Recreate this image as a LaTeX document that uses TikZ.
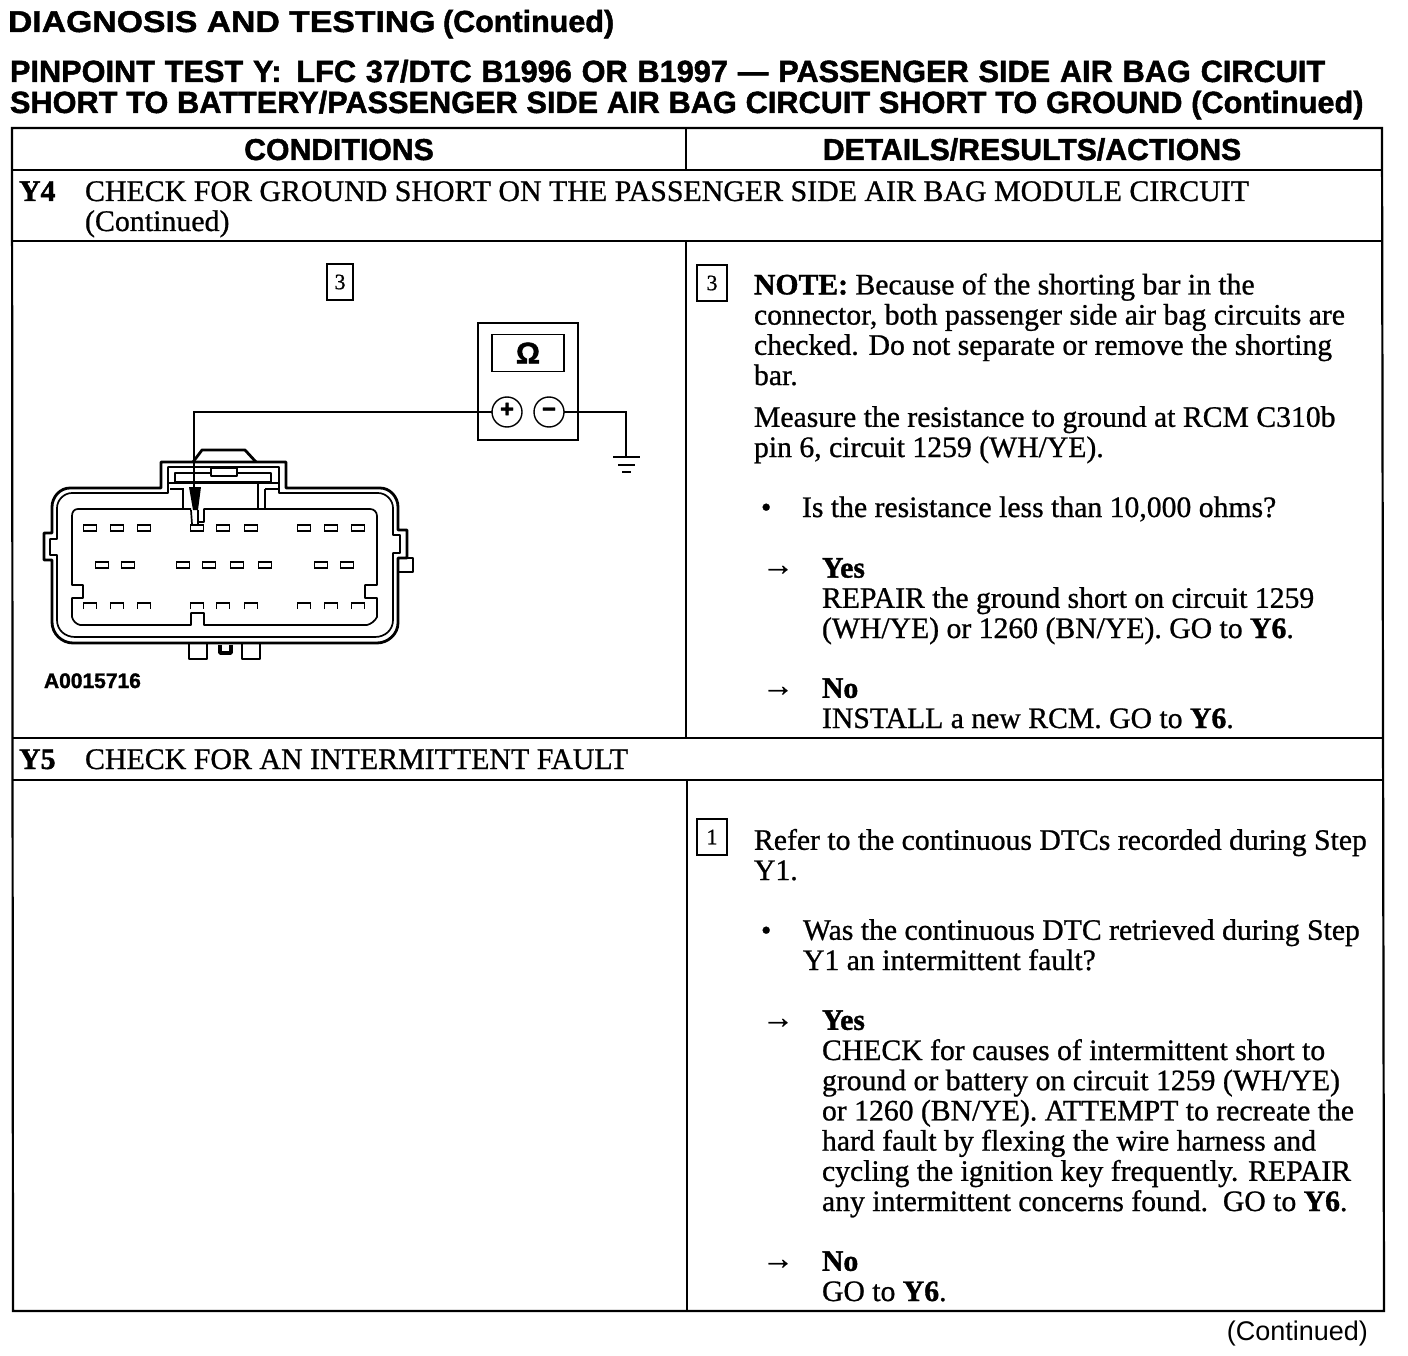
\documentclass[tikz,border=0pt]{standalone}
\usepackage{fontspec}
\setmainfont{Liberation Serif}[FakeBold=0.8, BoldFeatures={FakeBold=1.2}]
\newfontfamily\headfont{Liberation Sans}[BoldFont={Liberation Sans Bold}, BoldFeatures={FakeBold=1.5}]
\newfontfamily\titlefont{Liberation Sans}[BoldFont={Liberation Sans Bold}, BoldFeatures={FakeBold=1.5}, FakeStretch=1.125]
\usetikzlibrary{positioning}

\begin{document}
\begin{tikzpicture}[
    x=1pt, y=-1pt,
    every node/.style={inner sep=0pt, outer sep=0pt},
    % The table rules:
    rule/.style={line width=2.2pt},
    % The text of the table, placed by its last line:
    para/.style={
      anchor=base west,
      align=left,
      yshift=1pt,
      font=\fontsize{29.7}{30.2}\selectfont,
    },
    rowtitle/.style={
      para,
      font=\fontsize{29.9}{30}\selectfont,
    },
    arrowmark/.style={
      anchor=base west,
      font=\fontsize{32}{32}\selectfont,
    },
    % The headings:
    head/.style={
      anchor=base west,
      yshift=1pt,
      font=\fontsize{30.7}{30.7}\selectfont\headfont\bfseries,
    },
    colhead/.style={
      anchor=base,
      yshift=1pt,
      font=\fontsize{30.2}{30}\selectfont\headfont\bfseries,
    },
    % The numbered squares:
    stepbox/.style={
      draw, line width=2pt,
      minimum width=30pt, minimum height=36pt,
      font=\fontsize{22}{22}\selectfont,
    },
    % The connector:
    shell/.style={line width=2.8pt, line join=round},
    thinline/.style={line width=1.7pt, line join=round},
    pinbox/.style={draw, line width=1.8pt, minimum width=13pt, minimum height=6.5pt},
    socket/.style={line width=1.8pt},
    % The meter:
    jack/.style={circle, draw, line width=1.4pt, minimum size=30pt,
      text height=1em, text depth=0pt,
      font=\fontsize{24}{24}\selectfont\headfont\bfseries},
    wire/.style={line width=2.6pt},
  ]

  % table
  \draw[rule] (12,128) -- (1382,128) -- (1384,1311) -- (13,1311) -- cycle;
  \draw[rule] (12,170) -- (1382,170);
  \draw[rule] (12,241) -- (1382,241);
  \draw[rule] (12,738) -- (1383,738);
  \draw[rule] (13,780) -- (1383,780);
  \draw[rule] (686,128) -- (686,170);
  \draw[rule] (686,241) -- (686,738);
  \draw[rule] (687,780) -- (687,1311);

  % headings
  \node[head, font=\fontsize{30}{30}\selectfont\bfseries] (title) at (8,33) {{\titlefont DIAGNOSIS AND TESTING} {\fontsize{30.5}{30}\selectfont\headfont(Continued)}};
  \node[head] (pinpoint) at (10,83) {\spaceskip=9.8pt PINPOINT TEST Y:\, LFC 37/DTC B1996 OR B1997 — PASSENGER SIDE AIR BAG CIRCUIT};
  \node[head] (pinpointb) at (10,114) {\spaceskip=8.8pt SHORT TO BATTERY/PASSENGER SIDE AIR BAG CIRCUIT SHORT TO GROUND (Continued)};
  \node[colhead] (conditions) at (339,161) {CONDITIONS};
  \node[colhead] (details) at (1032,161) {DETAILS/RESULTS/ACTIONS};

  % step rows
  \node[rowtitle] (ynum) at (19,202) {\textbf{Y4}};
  \node[rowtitle] (ytitle) at (85,232) {CHECK FOR GROUND SHORT ON THE PASSENGER SIDE AIR BAG MODULE CIRCUIT\\(Continued)};
  \node[rowtitle] (znum) at (19,770) {\textbf{Y5}};
  \node[rowtitle] (ztitle) at (85,770) {CHECK FOR AN INTERMITTENT FAULT};

  % right column, Y4
  \node[stepbox] (stepc) at (712,283) {3};
  \node[para] (note) at (754,386) {\textbf{NOTE:} Because of the shorting bar in the\\connector, both passenger side air bag circuits are\\checked. Do not separate or remove the shorting\\bar.};
  \node[para] (measure) at (754,458) {Measure the resistance to ground at RCM C310b\\pin 6, circuit 1259 (WH/YE).};
  \node[para] (bulleta) at (761,518) {•};
  \node[para] (ask) at (802,518) {Is the resistance less than 10,000 ohms?};
  \node[arrowmark] (arrowa) at (762,575) {→};
  \node[para] (yesa) at (822,639) {\textbf{Yes}\\REPAIR the ground short on circuit 1259\\(WH/YE) or 1260 (BN/YE). GO to \textbf{Y6}.};
  \node[arrowmark] (arrowb) at (762,696) {→};
  \node[para] (noa) at (822,729) {\textbf{No}\\INSTALL a new RCM. GO to \textbf{Y6}.};

  % right column, Y5
  \node[stepbox] (stepa) at (712,837) {1};
  \node[para] (refer) at (754,881) {Refer to the continuous DTCs recorded during Step\\Y1.};
  \node[para] (bulletb) at (761,941) {•};
  \node[para] (was) at (803,971) {Was the continuous DTC retrieved during Step\\Y1 an intermittent fault?};
  \node[arrowmark] (arrowc) at (762,1028) {→};
  \node[para] (yesb) at (822,1212) {\textbf{Yes}\\CHECK for causes of intermittent short to\\ground or battery on circuit 1259 (WH/YE)\\or 1260 (BN/YE). ATTEMPT to recreate the\\hard fault by flexing the wire harness and\\cycling the ignition key frequently. REPAIR\\any intermittent concerns found.\, GO to \textbf{Y6}.};
  \node[arrowmark] (arrowd) at (762,1269) {→};
  \node[para] (nob) at (822,1302) {\textbf{No}\\GO to \textbf{Y6}.};
  \node[anchor=base east, font=\fontsize{27}{27}\selectfont\headfont] (more) at (1368,1340) {(Continued)};

  % left column, figure
  \node[stepbox, minimum width=26pt] (stepfig) at (340,282) {3};
  \node[anchor=base west, font=\fontsize{21}{21}\selectfont\headfont\bfseries] (figno) at (44,688) {A0015716};

  % meter
  \node[draw, line width=2.6pt, minimum width=100pt, minimum height=117pt] (meter) at (528,381.5) {};
  \node[draw, line width=1.5pt, minimum width=72pt, minimum height=37pt,
    font=\fontsize{30}{30}\selectfont\headfont\bfseries] (display) at (528,353) {Ω};
  \node[jack] (plus) at (507,412) {+};
  \node[jack] (minus) at (549,412) {−};

  % connector body
  \draw[shell] (161,488) -- (161,462) -- (286,462) -- (286,488) -- (380,488)
    .. controls (390,488) and (398,497) .. (398,507) -- (398,530) -- (407,530)
    -- (407,558) -- (398,558) -- (398,623)
    .. controls (398,634) and (388,643) .. (377,643) -- (73,643)
    .. controls (62,643) and (52,634) .. (52,622) -- (52,560) -- (44,560)
    -- (44,533) -- (52,533) -- (52,507)
    .. controls (52,497) and (60,488) .. (70,488) -- cycle;
  \draw[thinline] (168,493) -- (168,467) -- (279,467) -- (279,493) -- (378,493)
    .. controls (386,493) and (393,500) .. (393,508) -- (393,535) -- (400,535)
    -- (400,553) -- (393,553) -- (393,620)
    .. controls (393,630) and (385,637) .. (375,637) -- (75,637)
    .. controls (65,637) and (57,630) .. (57,620) -- (57,555) -- (50,555)
    -- (50,539) -- (57,539) -- (57,508)
    .. controls (57,500) and (64,493) .. (72,493) -- cycle;
  \draw[thinline] (198,522) -- (204,522) -- (204,509) -- (370,509)
    .. controls (374,509) and (377,512) .. (377,516)
    -- (377,585) -- (365,585) -- (365,598) -- (377,598) -- (377,617)
    .. controls (375,621) and (371,624) .. (367,625)
    -- (204,625) -- (204,613) -- (191,613) -- (191,625) -- (80,625)
    .. controls (76,624) and (73,621) .. (72,617)
    -- (72,598) -- (83,598) -- (83,585) -- (72,585) -- (72,516)
    .. controls (72,512) and (74,509) .. (78,509) -- (191,509);
  % latch and shorting bar
  \draw[shell] (193,462) -- (202,450) -- (245,450) -- (256,462);
  \draw[thinline] (175,473) rectangle (271,482);
  \draw[thinline, fill=white] (211,468) rectangle (237,476);
  \draw[shell] (168,483) -- (279,483);
  \draw[socket] (170,489) -- (183,489) -- (183,509);
  \draw[socket] (258,483) -- (258,509);
  \draw[socket] (265,489) -- (265,509) (265,489) -- (278,489);
  % tab at the right and feet
  \draw[shell] (398,558) -- (413,558) -- (413,572) -- (398,572);
  \draw[shell] (189,643) -- (189,659) -- (207,659) -- (207,643);
  \draw[shell, line width=3.5pt] (220,645) -- (220,653) -- (231,653) -- (231,645);
  \draw[shell] (242,643) -- (242,659) -- (260,659) -- (260,643);

  % terminals
  \foreach \px [count=\i] in {90,117,144,197,223,251,304,331,358}
    \node[pinbox] (top\i) at (\px,528) {};
  \foreach \px [count=\i] in {102,128,183,209,237,265,321,347}
    \node[pinbox] (mid\i) at (\px,565) {};
  \foreach \px in {90,117,144,197,223,251,304,331,358}
    \draw[socket] (\px-6.5,609) -- (\px-6.5,603) -- (\px+6.5,603) -- (\px+6.5,609);

  % probe
  \coordinate (probe) at (194,487);
  \coordinate (ground) at (626,457);
  \fill (189,487) -- (201,487) -- (198,510) -- (193,510) -- cycle;
  \draw[thinline] (191,510) -- (192,524) (198,510) -- (198,524);

  % wires
  \draw[wire] (plus.west) -| (probe);
  \draw[wire] (minus.east) -| (ground);
  \draw[line width=2.2pt] (613,457) -- (640,457);
  \draw[line width=2.2pt] (618,465) -- (635,465);
  \draw[line width=2.2pt] (622,472) -- (631,472);

  \useasboundingbox (0,0) rectangle (1408,1356);
\end{tikzpicture}
\end{document}
